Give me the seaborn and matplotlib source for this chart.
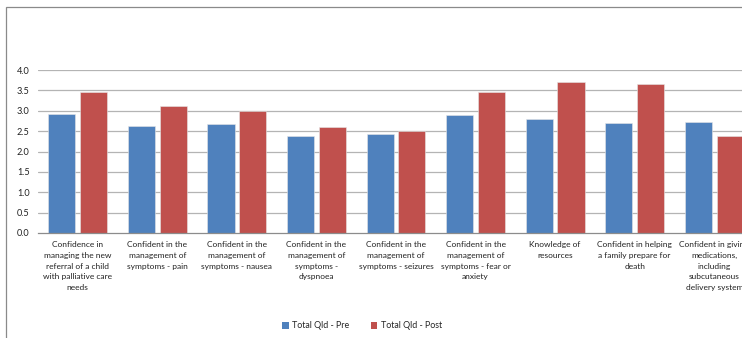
import matplotlib
matplotlib.use("Agg")
import matplotlib.pyplot as plt
from matplotlib.patches import Rectangle, Patch
import pandas as pd
import seaborn as sns

# ── Data ────────────────────────────────────────────
categories = [
    "Confidence in\nmanaging the new\nreferral of a child\nwith palliative care\nneeds",
    "Confident in the\nmanagement of\nsymptoms - pain",
    "Confident in the\nmanagement of\nsymptoms - nausea",
    "Confident in the\nmanagement of\nsymptoms -\ndyspnoea",
    "Confident in the\nmanagement of\nsymptoms - seizures",
    "Confident in the\nmanagement of\nsymptoms - fear or\nanxiety",
    "Knowledge of\nresources",
    "Confident in helping\na family prepare for\ndeath",
    "Confident in giving\nmedications,\nincluding\nsubcutaneous\ndelivery system",
]
pre_values = [2.92, 2.62, 2.67, 2.39, 2.44, 2.90, 2.80, 2.70, 2.72]
post_values = [3.47, 3.12, 3.00, 2.60, 2.50, 3.47, 3.71, 3.66, 2.38]
series_names = ["Total Qld - Pre", "Total Qld - Post"]
y_ticks = [0.0, 0.5, 1.0, 1.5, 2.0, 2.5, 3.0, 3.5, 4.0]

colors = ["#4F81BD", "#C0504D"]

df = pd.DataFrame({
    "category": categories * 2,
    "value": pre_values + post_values,
    "series": [series_names[0]] * len(categories) + [series_names[1]] * len(categories),
})

sns.set_style("white")
plt.rcParams["font.family"] = ["Lato", "DejaVu Sans"]

W, H = 742, 338
fig = plt.figure(figsize=(W / 100, H / 100), dpi=100)

# plot area runs past the right edge, as in the cropped original
ax = fig.add_axes([38 / W, (H - 233) / H, (754 - 38) / W, (233 - 70) / H])

sns.barplot(
    data=df, x="category", y="value", hue="series",
    palette=colors, saturation=1, width=0.8, gap=0.15, ax=ax,
    edgecolor="#e6e6e6", linewidth=0.4, legend=False, errorbar=None,
)

ax.set_ylim(0, 4.0)
ax.set_xlim(-0.5, len(categories) - 0.5)
ax.set_yticks(y_ticks)
ax.set_yticklabels([f"{t:.1f}" for t in y_ticks], fontsize=6.6, color="#222222")
ax.tick_params(axis="y", length=0, pad=6)
ax.tick_params(axis="x", length=0, pad=6)
ax.set_xticks(range(len(categories)))
ax.set_xticklabels(categories, fontsize=6.0, color="#222222", linespacing=1.6, va="top")
ax.set_xlabel("")
ax.set_ylabel("")

for t in y_ticks[1:]:
    ax.axhline(t, color="#b4b4b4", linewidth=0.9, zorder=0)
ax.set_axisbelow(True)

for side in ["top", "right", "left"]:
    ax.spines[side].set_visible(False)
ax.spines["bottom"].set_color("#8c8c8c")
ax.spines["bottom"].set_linewidth(0.9)

# chart frame (top and left edges visible only)
fig.add_artist(Rectangle((6 / W, -0.2), 1.2, (H - 7) / H + 0.2,
                         transform=fig.transFigure, fill=False,
                         edgecolor="#8a8a8a", linewidth=0.9))

handles = [Patch(facecolor=c, edgecolor="none") for c in colors]
fig.legend(handles, series_names, loc="center", bbox_to_anchor=(362 / W, 12 / H),
           ncol=2, frameon=False, fontsize=6.4, handlelength=0.7, handleheight=0.7,
           handletextpad=0.4, columnspacing=2.4)

fig.savefig("out.png", dpi=100)
